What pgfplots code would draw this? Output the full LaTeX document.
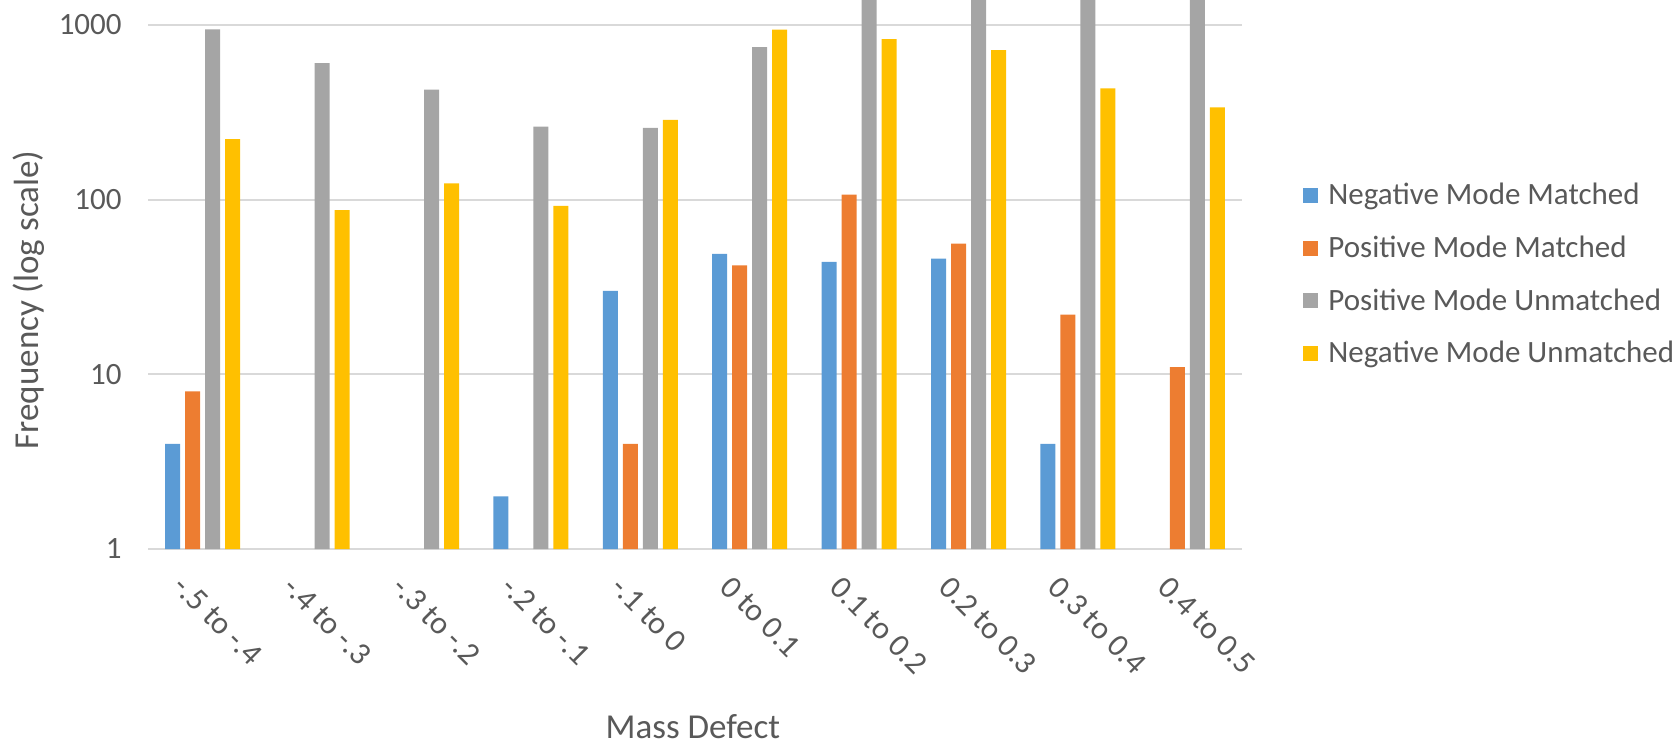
\documentclass[border=0pt]{standalone}
\usepackage{pgfplots}
\pgfplotsset{compat=1.18}
\usepackage{fontspec}
\setmainfont{Carlito}
\definecolor{cblue}{HTML}{5B9BD5}
\definecolor{corange}{HTML}{ED7D31}
\definecolor{cgrey}{HTML}{A5A5A5}
\definecolor{cyellow}{HTML}{FFC000}
\definecolor{ctext}{HTML}{595959}
\definecolor{cgrid}{HTML}{D9D9D9}
\begin{document}
\begin{tikzpicture}
\path[use as bounding box] (0,0) rectangle (839.5pt,372pt);
\begin{axis}[
  at={(74pt,97.5pt)}, anchor=south west,
  scale only axis, width=547pt, height=274.5pt,
  ymode=log, ymin=1, ymax=1390,
  xmin=-0.5, xmax=9.5,
  ybar=2.5pt, bar width=7.5pt,
  axis line style={draw=none},
  major tick length=0pt, minor tick length=0pt,
  tick style={draw=none}, minor tick num=0,
  ytick={1,10,100,1000}, yticklabels={1,10,100,1000},
  ymajorgrids, grid style={cgrid, line width=1pt},
  xtick={0,...,9},
  xticklabels={-.5 to -.4,-.4 to -.3,-.3 to -.2,-.2 to -.1,-.1 to 0,0 to 0.1,0.1 to 0.2,0.2 to 0.3,0.3 to 0.4,0.4 to 0.5},
  /pgf/number format/assume math mode=true,
  ticklabel style={font=\fontsize{15.5}{18}\selectfont, text=ctext},
  yticklabel style={inner sep=0pt, xshift=-13pt},
  xticklabel style={rotate=-45, anchor=north west, inner sep=0pt, xshift=3pt, yshift=-14.5pt, font=\fontsize{16}{18}\selectfont},
  xlabel={Mass Defect}, ylabel={Frequency (log scale)},
  label style={font=\fontsize{17.5}{20}\selectfont, text=ctext},
  xlabel style={at={(axis description cs:0.498,-0.345)}, anchor=base, inner sep=0pt},
  ylabel style={at={(axis description cs:-0.1088,0.4536)}, anchor=center, inner sep=0pt},
  legend style={at={(1.0558,0.5)}, anchor=west, draw=none, fill=none, inner sep=0pt,
    font=\fontsize{15.5}{18}\selectfont, text=ctext, row sep=14pt,
    nodes={inner sep=0pt},
    /tikz/every odd column/.append style={column sep=5pt}},
  legend cell align=left,
  legend image code/.code={\fill[#1] (0pt,-3.75pt) rectangle (7.5pt,3.75pt);},
]
\addplot[fill=cblue, draw=none] coordinates {(0,4) (3,2) (4,30) (5,49) (6,44) (7,46) (8,4)};
\addplot[fill=corange, draw=none] coordinates {(0,8) (4,4) (5,42) (6,107) (7,56) (8,22) (9,11)};
\addplot[fill=cgrey, draw=none] coordinates {(0,945) (1,605) (2,426) (3,262) (4,258) (5,747) (6,2200) (7,2000) (8,1900) (9,1800)};
\addplot[fill=cyellow, draw=none] coordinates {(0,222) (1,87) (2,124) (3,92) (4,286) (5,941) (6,829) (7,718) (8,434) (9,337)};
\legend{Negative Mode Matched, Positive Mode Matched, Positive Mode Unmatched, Negative Mode Unmatched}
\end{axis}
\end{tikzpicture}
\end{document}
